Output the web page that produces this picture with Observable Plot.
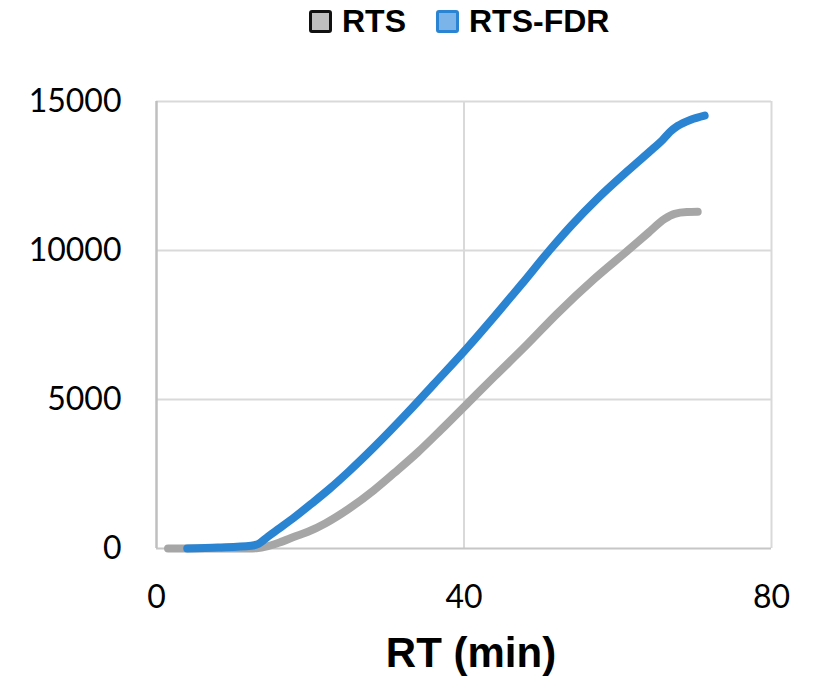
<!DOCTYPE html>
<html>
<head>
<meta charset="utf-8">
<script src="https://cdn.jsdelivr.net/npm/d3@7"></script>
<script src="https://cdn.jsdelivr.net/npm/@observablehq/plot@0.6"></script>
<style>
  body { margin: 0; background: #fff; }
  #wrap { position: relative; width: 820px; height: 680px; }
  #legend { position: absolute; left: 0; top: 0; width: 820px; height: 45px; font-family: "Liberation Sans", Arial, sans-serif; font-weight: bold; font-size: 32px; color: #000; }
  .item { position: absolute; top: 3px; display: flex; align-items: center; }
  .sw { width: 17px; height: 17px; border-radius: 3px; border: 3px solid; margin-right: 10px; }
  #xtitle { position: absolute; left: 0; width: 942px; text-align: center; top: 628px; font-family: "Liberation Sans", Arial, sans-serif; font-weight: bold; font-size: 42px; line-height: 50px; color: #000; }
  svg text { font-family: Lato, "Open Sans", sans-serif; }
</style>
</head>
<body>
<div id="wrap">
  <div id="chart"></div>
  <div id="legend"></div>
  <div id="xtitle"></div>
</div>
<script>
const seriesNames = ["RTS", "RTS-FDR"];
const seriesColors = ["#a6a6a6", "#2a84d2"];
const swatchFills = ["#bfbfbf", "#7ab4e8"];
const swatchBorders = ["#111111", "#2a84d2"];
const xTicks = [0, 40, 80];
const yTicks = [0, 5000, 10000, 15000];
const xTitle = "RT (min)";

const rtsX = [1.5, 12, 13, 14.5, 16, 18, 19.7, 22, 25, 28.3, 31, 34, 37, 40.5, 44, 48.3, 52, 57, 61.3, 64, 66.1, 67.4, 69, 70.4];
const rtsY = [0, 0, 10, 80, 200, 400, 560, 850, 1330, 1960, 2550, 3230, 3980, 4880, 5780, 6870, 7850, 9060, 10000, 10600, 11060, 11230, 11290, 11300];

const fdrX = [4, 8, 12.3, 13.3, 14.5, 16, 18, 20, 22.5, 25, 28.3, 32.7, 36.1, 40.3, 44, 47.5, 51.1, 54, 57.4, 61.5, 64.5, 65.8, 66.8, 67.8, 69.5, 71.3];
const fdrY = [0, 30, 90, 160, 400, 680, 1060, 1470, 2000, 2580, 3400, 4570, 5520, 6700, 7800, 8870, 10000, 10850, 11750, 12720, 13400, 13700, 13980, 14180, 14390, 14530];

const data = [
  ...rtsX.map((x, i) => ({series: seriesNames[0], x, y: rtsY[i]})),
  ...fdrX.map((x, i) => ({series: seriesNames[1], x, y: fdrY[i]}))
];

const chart = Plot.plot({
  width: 820,
  height: 680,
  marginTop: 101,
  marginLeft: 156,
  marginRight: 49,
  marginBottom: 132,
  style: {fontFamily: "Lato, 'Open Sans', sans-serif", fontSize: "32px", color: "#000", background: "#fff"},
  x: {domain: [0, 80]},
  y: {domain: [0, 15000]},
  color: {domain: seriesNames, range: seriesColors},
  marks: [
    Plot.ruleY(yTicks.filter(d => d > 0), {stroke: "#d9d9d9", strokeWidth: 2}),
    Plot.ruleX(xTicks.filter(d => d > 0), {stroke: "#d9d9d9", strokeWidth: 2}),
    Plot.ruleY([0], {stroke: "#c6c6c6", strokeWidth: 2}),
    Plot.ruleX([0], {stroke: "#bfbfbf", strokeWidth: 2.5}),
    Plot.axisX({ticks: xTicks, tickSize: 0, tickPadding: 37, label: null, fontSize: 32, tickFormat: d => String(d)}),
    Plot.axisY({ticks: yTicks, tickSize: 0, tickPadding: 35, label: null, fontSize: 32, tickFormat: d => String(d)}),
    Plot.line(data, {x: "x", y: "y", z: "series", stroke: "series", strokeWidth: 8, strokeLinecap: "round", strokeLinejoin: "round", curve: "monotone-x"})
  ]
});
document.getElementById("chart").appendChild(chart);

const legend = document.getElementById("legend");
const lefts = [309, 436];
seriesNames.forEach((name, i) => {
  const item = document.createElement("div");
  item.className = "item";
  item.style.left = lefts[i] + "px";
  const sw = document.createElement("div");
  sw.className = "sw";
  sw.style.background = swatchFills[i];
  sw.style.borderColor = swatchBorders[i];
  const t = document.createElement("span");
  t.textContent = name;
  item.appendChild(sw);
  item.appendChild(t);
  legend.appendChild(item);
});
document.getElementById("xtitle").textContent = xTitle;
</script>
</body>
</html>
